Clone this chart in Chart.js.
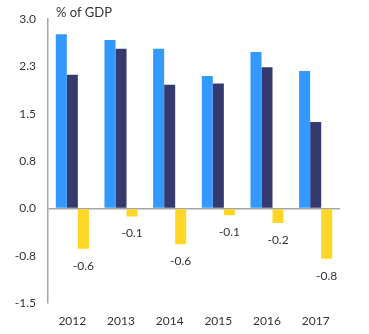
<!DOCTYPE html>
<html>
<head>
<meta charset="utf-8">
<script src="https://cdn.jsdelivr.net/npm/chart.js@4"></script>
<style>
	body { margin: 0; background: #fff; }
	#wrap { width: 369px; height: 334px; }
</style>
</head>
<body>
<div id="wrap"><canvas id="chart" width="369" height="334"></canvas></div>
<script>
var years = ['2012', '2013', '2014', '2015', '2016', '2017'];
var seriesA = [2.76, 2.67, 2.53, 2.10, 2.48, 2.18];
var seriesB = [2.12, 2.53, 1.96, 1.98, 2.24, 1.37];
var seriesC = [-0.64, -0.13, -0.57, -0.11, -0.23, -0.80];
var yTicks = [-1.5, -0.75, 0, 0.75, 1.5, 2.25, 3.0];

var font = 'Lato, "Liberation Sans", sans-serif';
var textColor = '#333333';
var lineColor = '#a6a6a6';

// draws the unit label and the values under the yellow bars
var extras = {
	id: 'extras',
	afterDatasetsDraw: function(chart) {
		var ctx = chart.ctx;
		var area = chart.chartArea;
		ctx.save();
		ctx.fillStyle = textColor;
		ctx.font = '13px ' + font;
		ctx.textAlign = 'left';
		ctx.textBaseline = 'bottom';
		ctx.fillText('% of GDP', area.left + 8, area.top);

		ctx.font = '12px ' + font;
		ctx.textAlign = 'center';
		ctx.textBaseline = 'middle';
		var meta = chart.getDatasetMeta(2);
		meta.data.forEach(function(bar, i) {
			ctx.fillText(seriesC[i].toFixed(1), bar.x, bar.y + 17);
		});
		ctx.restore();
	}
};

var ctx = document.getElementById('chart').getContext('2d');
var chart = new Chart(ctx, {
	type: 'bar',
	data: {
		labels: years,
		datasets: [
			{ data: seriesA, backgroundColor: '#3399ff' },
			{ data: seriesB, backgroundColor: '#343a6e' },
			{ data: seriesC, backgroundColor: '#ffd625' }
		]
	},
	options: {
		responsive: false,
		animation: false,
		layout: { padding: { top: 11, right: 29, bottom: 0, left: 0 } },
		datasets: {
			bar: { categoryPercentage: 0.68, barPercentage: 1 }
		},
		plugins: {
			legend: { display: false },
			tooltip: { enabled: false }
		},
		scales: {
			x: {
				afterFit: function(scale) { scale.height = 31; },
				grid: { display: false },
				border: { display: false },
				ticks: {
					color: textColor,
					font: { family: font, size: 12 },
					padding: 3,
					maxRotation: 0
				}
			},
			y: {
				min: -1.5,
				max: 3.0,
				afterFit: function(scale) { scale.width = 48; },
				afterBuildTicks: function(scale) {
					scale.ticks = yTicks.map(function(v) { return { value: v }; });
				},
				grid: {
					drawTicks: false,
					color: function(c) { return c.tick && c.tick.value === 0 ? lineColor : 'rgba(0,0,0,0)'; },
					lineWidth: 1.5
				},
				border: { display: true, color: lineColor, width: 1.5 },
				ticks: {
					color: textColor,
					font: { family: font, size: 12 },
					padding: 12,
					callback: function(v) { return Number(v).toFixed(1); }
				}
			}
		}
	},
	plugins: [extras]
});
</script>
</body>
</html>
